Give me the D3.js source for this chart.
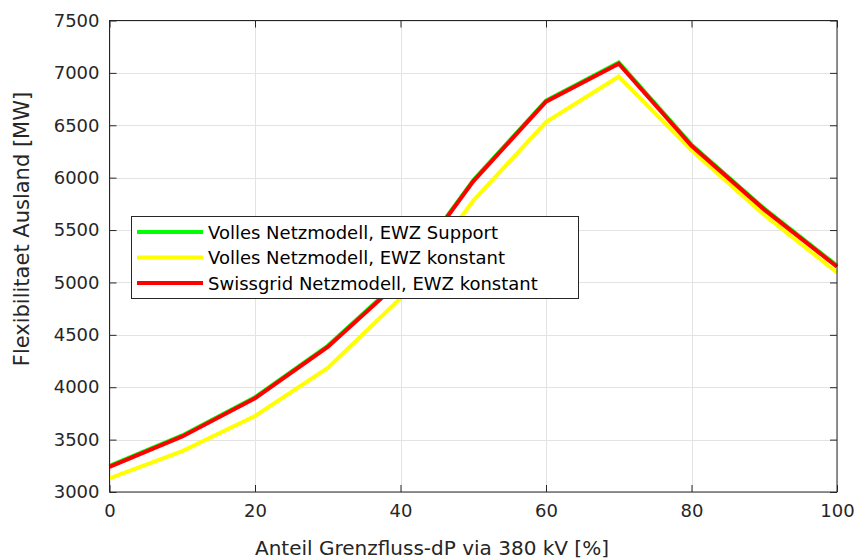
<!DOCTYPE html>
<html>
<head>
<meta charset="utf-8">
<script src="https://cdn.jsdelivr.net/npm/d3@7/dist/d3.min.js"></script>
<style>
  html, body { margin: 0; padding: 0; background: #fff; }
  svg { display: block; font-family: "DejaVu Sans", sans-serif; }
</style>
</head>
<body>
<svg id="chart" width="857" height="560"></svg>
<script>
// Share of cross-border flow dP routed via 380 kV [%]
const anteil = [0, 10, 20, 30, 40, 50, 60, 70, 80, 90, 100];

// Foreign flexibility [MW] per model variant
const vollesSupport   = [3250, 3540, 3905, 4395, 5025, 5975, 6735, 7098, 6315, 5705, 5160];
const vollesKonstant  = [3130, 3390, 3725, 4185, 4850, 5780, 6530, 6965, 6262, 5645, 5095];
const swissgridKonst  = [3240, 3530, 3895, 4385, 5015, 5965, 6725, 7088, 6305, 5695, 5150];

const seriesNames  = ["Volles Netzmodell, EWZ Support", "Volles Netzmodell, EWZ konstant", "Swissgrid Netzmodell, EWZ konstant"];
const seriesColors = ["#00ff00", "#ffff00", "#ff0000"];

const xTicks = [0, 20, 40, 60, 80, 100];
const yTicks = [3000, 3500, 4000, 4500, 5000, 5500, 6000, 6500, 7000, 7500];

const xLabel = "Anteil Grenzfluss-dP via 380 kV [%]";
const yLabel = "Flexibilitaet Ausland [MW]";

const svg = d3.select("#chart");
const L = 109.5, R = 837, T = 20.5, B = 492;
const axisColor = "#262626";

const x = d3.scaleLinear().domain([0, 100]).range([L, R]);
const y = d3.scaleLinear().domain([3000, 7500]).range([B, T]);

// grid
const grid = svg.append("g").attr("stroke", "#e3e3e3").attr("stroke-width", 1);
xTicks.forEach(t => grid.append("line")
  .attr("x1", Math.round(x(t)) + 0.5).attr("x2", Math.round(x(t)) + 0.5)
  .attr("y1", T).attr("y2", B));
yTicks.forEach(t => grid.append("line")
  .attr("x1", L).attr("x2", R)
  .attr("y1", Math.round(y(t)) + 0.5).attr("y2", Math.round(y(t)) + 0.5));

// data lines
const line = d3.line().x((d, i) => x(anteil[i])).y(d => y(d));
[vollesSupport, vollesKonstant, swissgridKonst].forEach((s, k) => {
  svg.append("path").datum(s)
    .attr("d", line)
    .attr("fill", "none")
    .attr("stroke", seriesColors[k])
    .attr("stroke-width", 4)
    .attr("stroke-linejoin", "miter");
});

// axes (ticks pointing inward, box on all sides)
const tickLen = 7;
const fmt = d3.format("d");
const xAxis = d3.axisBottom(x).tickValues(xTicks).tickFormat(fmt).tickSizeInner(-tickLen).tickSizeOuter(0).tickPadding(12);
const yAxis = d3.axisLeft(y).tickValues(yTicks).tickFormat(fmt).tickSizeInner(-tickLen).tickSizeOuter(0).tickPadding(10);
const xTop = d3.axisTop(x).tickValues(xTicks).tickSizeInner(-tickLen).tickSizeOuter(0).tickFormat("");
const yRight = d3.axisRight(y).tickValues(yTicks).tickSizeInner(-tickLen).tickSizeOuter(0).tickFormat("");

function styleAxis(g) {
  g.select(".domain").remove();
  g.selectAll(".tick line").attr("stroke", axisColor);
  g.selectAll(".tick text").attr("fill", axisColor)
    .style("font-family", "'DejaVu Sans', sans-serif").style("font-size", "18px");
}
svg.append("g").attr("transform", `translate(0,${B})`).call(xAxis).call(styleAxis);
svg.append("g").attr("transform", `translate(${L},0)`).call(yAxis).call(styleAxis);
svg.append("g").attr("transform", `translate(0,${T})`).call(xTop).call(styleAxis);
svg.append("g").attr("transform", `translate(${R},0)`).call(yRight).call(styleAxis);

svg.append("rect")
  .attr("x", L).attr("y", T).attr("width", R - L).attr("height", B - T)
  .attr("fill", "none").attr("stroke", axisColor).attr("stroke-width", 1);

// axis titles
svg.append("text")
  .attr("x", 432).attr("y", 555)
  .attr("text-anchor", "middle")
  .attr("fill", axisColor)
  .style("font-size", "20px")
  .text(xLabel);

svg.append("text")
  .attr("transform", "translate(29,229) rotate(-90)")
  .attr("text-anchor", "middle")
  .attr("fill", axisColor)
  .style("font-size", "21px")
  .text(yLabel);

// legend
const lg = svg.append("g");
lg.append("rect")
  .attr("x", 131.5).attr("y", 216.5).attr("width", 447).attr("height", 82)
  .attr("fill", "#fff").attr("stroke", axisColor).attr("stroke-width", 1);
seriesNames.forEach((name, i) => {
  const cy = 232 + i * 25.5;
  lg.append("line")
    .attr("x1", 137).attr("x2", 203).attr("y1", cy).attr("y2", cy)
    .attr("stroke", seriesColors[i]).attr("stroke-width", 4);
  lg.append("text")
    .attr("x", 208).attr("y", cy + 6.5)
    .attr("fill", "#000")
    .style("font-size", "18px")
    .text(name);
});
</script>
</body>
</html>
